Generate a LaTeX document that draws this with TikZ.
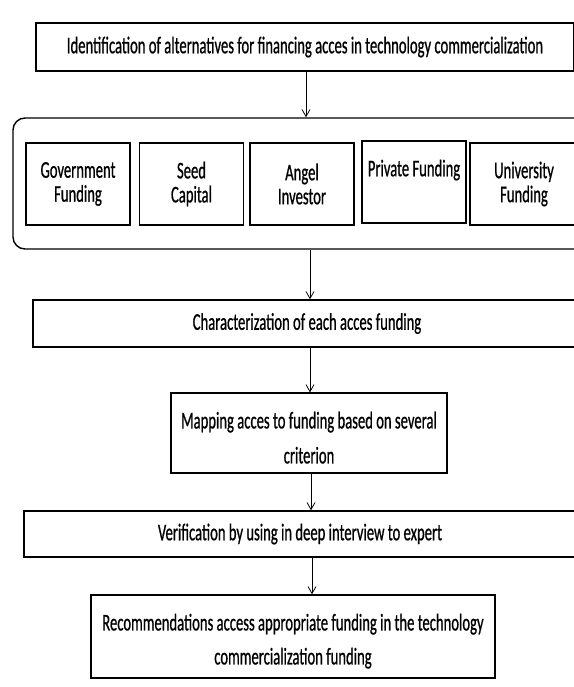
\documentclass[tikz,border=0pt]{standalone}
\usepackage{fontspec}
\setmainfont{Carlito}[FakeStretch=0.61,FakeBold=0.7]
\usepackage{tikz}
\usetikzlibrary{positioning,arrows.meta}

\tikzset{
  stepbox/.style={draw, line width=1.4pt, inner sep=0pt, align=center, font=\fontsize{24}{24}\selectfont},
  fundbox/.style={draw, line width=1.4pt, inner sep=0pt, align=center, minimum width=104pt, minimum height=82pt, font=\fontsize{24}{24}\selectfont},
  flow/.style={line width=0.8pt, -{Straight Barb[length=7pt,width=8pt]}}
}

\begin{document}
\begin{tikzpicture}[x=1pt,y=-1pt]
    \useasboundingbox (0,0) rectangle (573,687);

    % Identification
    \node[stepbox, minimum width=538pt, minimum height=48pt] (ident) at (305,47)
        {Identification of alternatives for financing acces in technology commercialization};

    % Alternatives
    \node[draw, line width=1.4pt, rounded corners=12pt, minimum width=594pt, minimum height=131pt] (alt) at (310,183.5) {};
    \node[fundbox] (gov) at (78,184) {Government\\Funding};
    \node[fundbox] (seed) at (191.5,184) {Seed\\Capital};
    \node[fundbox] (angel) at (302,184) {Angel\\Investor};
    \node[fundbox] (priv) at (414,182) {Private Funding\\\phantom{Funding}};
    \node[fundbox, minimum width=108pt] (univ) at (524,184) {University\\Funding};

    % Characterization
    \node[stepbox, minimum width=548pt, minimum height=47pt] (char) at (307,323.5)
        {Characterization of each acces funding};

    % Mapping
    \node[stepbox, line width=1.2pt, minimum width=276pt, minimum height=80pt, font=\fontsize{24}{35}\selectfont] (map) at (309,433)
        {\rule{0pt}{26pt}Mapping acces to funding based on several\\criterion};

    % Verification
    \node[stepbox, minimum width=552pt, minimum height=46pt] (verif) at (300,534)
        {Verification by using in deep interview to expert};

    % Recommendations
    \node[stepbox, minimum width=404pt, minimum height=83pt, font=\fontsize{24}{34}\selectfont] (recom) at (293,636.5)
        {\rule{0pt}{26pt}Recommendations access appropriate funding in the technology\\commercialization funding};

    % Arrows
    \draw[flow] ([xshift=1pt]ident.south) -- ([xshift=-4pt]alt.north);
    \draw[flow] (alt.south) -- ([xshift=3pt]char.north);
    \draw[flow] ([xshift=3pt]char.south) -- ([xshift=1pt]map.north);
    \draw[flow] ([xshift=2pt]map.south) -- ([xshift=11pt]verif.north);
    \draw[flow] ([xshift=12pt]verif.south) -- ([xshift=19pt]recom.north);
\end{tikzpicture}
\end{document}
